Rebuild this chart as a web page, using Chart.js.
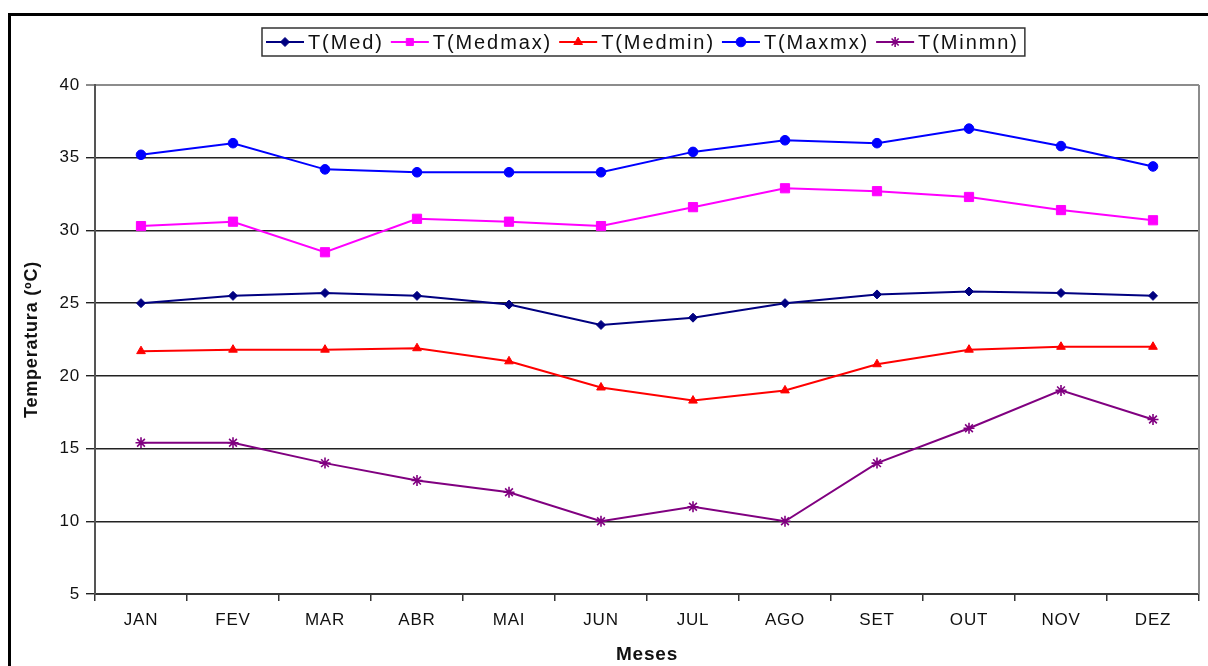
<!DOCTYPE html>
<html>
<head>
<meta charset="utf-8">
<script src="https://cdn.jsdelivr.net/npm/chart.js@4/dist/chart.umd.min.js"></script>
<style>
  html, body { margin: 0; padding: 0; background: #fff; }
  #wrap { position: relative; width: 1208px; height: 666px; overflow: hidden; }
  #frame { position: absolute; left: 8px; top: 13px; right: -10px; bottom: -10px;
           border-left: 3px solid #000; border-top: 3px solid #000; }
  canvas { position: absolute; left: 0; top: 0; }
</style>
</head>
<body>
<div id="wrap">
  <div id="frame"></div>
  <canvas id="c" width="1208" height="666"></canvas>
</div>
<script>
// Monthly temperature series (°C)
const months = ['JAN', 'FEV', 'MAR', 'ABR', 'MAI', 'JUN', 'JUL', 'AGO', 'SET', 'OUT', 'NOV', 'DEZ'];
const tMed    = [25.0, 25.5, 25.7, 25.5, 24.9, 23.5, 24.0, 25.0, 25.6, 25.8, 25.7, 25.5];
const tMedmax = [30.3, 30.6, 28.5, 30.8, 30.6, 30.3, 31.6, 32.9, 32.7, 32.3, 31.4, 30.7];
const tMedmin = [21.7, 21.8, 21.8, 21.9, 21.0, 19.2, 18.3, 19.0, 20.8, 21.8, 22.0, 22.0];
const tMaxmx  = [35.2, 36.0, 34.2, 34.0, 34.0, 34.0, 35.4, 36.2, 36.0, 37.0, 35.8, 34.4];
const tMinmn  = [15.4, 15.4, 14.0, 12.8, 12.0, 10.0, 11.0, 10.0, 14.0, 16.4, 19.0, 17.0];
const seriesNames = ['T(Med)', 'T(Medmax)', 'T(Medmin)', 'T(Maxmx)', 'T(Minmn)'];
const yMin = 5, yMax = 40, yStep = 5;

const FONT = "'Liberation Sans', Arial, Helvetica, sans-serif";
Chart.defaults.font.family = FONT;
Chart.defaults.color = '#111';

function series(label, data, color, style, radius) {
  return {
    label, data,
    borderColor: color, backgroundColor: color,
    pointBackgroundColor: color, pointBorderColor: color,
    pointStyle: style, pointRadius: radius, pointHoverRadius: radius,
    pointBorderWidth: style === 'star' ? 1.6 : 1,
    borderWidth: 2, tension: 0, fill: false
  };
}

// Slightly wide text spacing for all labels
const SPACING = '0.8px';
const spacing = {
  id: 'spacing',
  beforeLayout(chart) { chart.ctx.letterSpacing = SPACING; },
  beforeDraw(chart) { chart.ctx.letterSpacing = SPACING; }
};

// Right edge of the plot area
const plotEdge = {
  id: 'plotEdge',
  afterDraw(chart) {
    const { ctx, chartArea: a } = chart;
    ctx.save();
    ctx.strokeStyle = '#8c8c8c';
    ctx.lineWidth = 2;
    ctx.beginPath();
    ctx.moveTo(a.right, a.top);
    ctx.lineTo(a.right, a.bottom);
    ctx.stroke();
    ctx.restore();
  }
};

// Boxed legend with line + marker samples
const boxLegend = {
  id: 'boxLegend',
  afterDraw(chart, args, opts) {
    const ctx = chart.ctx;
    const left = opts.left, top = opts.top, h = opts.height;
    const cy = top + h / 2;
    ctx.save();
    ctx.letterSpacing = '1.9px';
    ctx.font = '20px ' + FONT;
    ctx.textBaseline = 'middle';
    ctx.textAlign = 'left';
    let x = left + 4;
    chart.data.datasets.forEach((ds) => {
      const x1 = x, x2 = x + 38;
      ctx.strokeStyle = ds.borderColor;
      ctx.fillStyle = ds.borderColor;
      ctx.lineWidth = 2;
      ctx.beginPath();
      ctx.moveTo(x1, cy); ctx.lineTo(x2, cy); ctx.stroke();
      const r = Math.min(ds.pointRadius, 5);
      if (Chart.helpers && Chart.helpers.drawPoint) {
        ctx.lineWidth = ds.pointBorderWidth;
        Chart.helpers.drawPoint(ctx, { pointStyle: ds.pointStyle, radius: r, rotation: 0, borderWidth: ds.pointBorderWidth }, (x1 + x2) / 2, cy);
      }
      ctx.fillStyle = '#111';
      const tx = x2 + 4;
      ctx.fillText(ds.label, tx, cy + 1);
      x = tx + ctx.measureText(ds.label).width + 7;
    });
    const right = x - 1;
    ctx.letterSpacing = '0px';
    ctx.strokeStyle = '#333';
    ctx.lineWidth = 1.5;
    ctx.strokeRect(left, top, right - left, h);
    ctx.restore();
  }
};

new Chart(document.getElementById('c'), {
  type: 'line',
  data: {
    labels: months,
    datasets: [
      series(seriesNames[0], tMed,    '#000080', 'rectRot', 4.5),
      series(seriesNames[1], tMedmax, '#ff00ff', 'rect',    6.5),
      series(seriesNames[2], tMedmin, '#ff0000', 'triangle', 5),
      series(seriesNames[3], tMaxmx,  '#0000ff', 'circle',  4.8),
      series(seriesNames[4], tMinmn,  '#800080', 'star',    5.5)
    ]
  },
  options: {
    responsive: false,
    animation: false,
    layout: { padding: { top: 85, right: 9, left: 0, bottom: 0 } },
    plugins: {
      legend: { display: false },
      tooltip: { enabled: false },
      boxLegend: { left: 262, top: 28, height: 28 }
    },
    scales: {
      x: {
        offset: true,
        grid: { offset: true, drawOnChartArea: false, drawTicks: true, tickLength: 7, color: '#333', lineWidth: 1.5 },
        border: { color: '#333', width: 2 },
        ticks: { font: { size: 17 }, color: '#111', padding: 9, maxRotation: 0 },
        title: { display: true, text: 'Meses', font: { size: 19, weight: 'bold' }, color: '#111', padding: { top: 0, bottom: 0 } },
        afterFit(scale) { scale.height = 72; }
      },
      y: {
        min: yMin, max: yMax,
        ticks: { stepSize: yStep, font: { size: 17 }, color: '#111', padding: 6 },
        grid: {
          tickLength: 9,
          color: (c) => (c.tick && c.tick.value === yMax ? '#8c8c8c' : '#222'),
          lineWidth: (c) => (c.tick && c.tick.value === yMax ? 2 : 1.4)
        },
        border: { color: '#555', width: 2 },
        title: { display: true, text: 'Temperatura (ºC)', font: { size: 18, weight: 'bold' }, color: '#111', padding: { top: 21, bottom: 0 } },
        afterFit(scale) { scale.width = 95; }
      }
    }
  },
  plugins: [spacing, plotEdge, boxLegend]
});
</script>
</body>
</html>
